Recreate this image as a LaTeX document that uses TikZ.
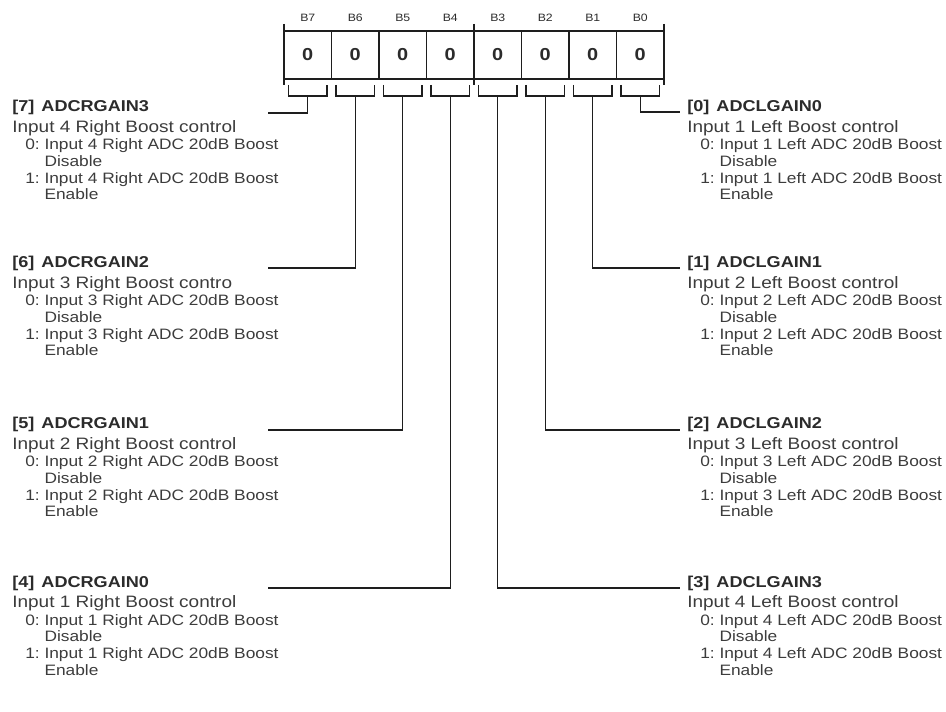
\documentclass[tikz,border=0pt]{standalone}
\usepackage{fontspec}
\setmainfont{Liberation Sans}[FakeStretch=1.15]
\usepackage{tikz}
\usetikzlibrary{calc}
\definecolor{txt}{HTML}{3C3C3C}
\definecolor{ttl}{HTML}{2B2B2B}
\definecolor{wirec}{HTML}{1E1E1E}
% one field description: #1 bit, #2 x, #3 baseline y, #4 field name, #5 description, #6 option text
\newcommand{\fielddesc}[6]{%
\node[fieldname] (t#1) at (#2,#3) {[#1]\hspace{0.45em}#4};
\node[fieldtext] (d#1) at ([yshift=-15.5pt]t#1.base west) {#5};
\node[fieldopt] (za#1) at ([xshift=9.75pt,yshift=-13pt]d#1.base west) {0:~#6};
\node[fieldopt] (zb#1) at ([yshift=-12.5pt]za#1.base west) {\phantom{0:~}Disable};
\node[fieldopt] (zc#1) at ([yshift=-12.5pt]zb#1.base west) {1:~#6};
\node[fieldopt] (zd#1) at ([yshift=-12.5pt]zc#1.base west) {\phantom{1:~}Enable};
}

\begin{document}
\begin{tikzpicture}[x=0.75pt, y=-0.75pt,
  wire/.style={draw=wirec, line width=0.8pt},
  cell/.style={draw=wirec, line width=0.8pt, minimum width=35.625pt, minimum height=36pt, inner sep=0pt, font=\fontsize{13}{15}\selectfont\bfseries, text=ttl},
  head/.style={inner sep=0pt, font=\fontsize{8}{9}\selectfont, text=ttl},
  fieldname/.style={anchor=base west, inner sep=0pt, font=\fontsize{11.8}{13}\selectfont\bfseries, text=ttl},
  fieldtext/.style={anchor=base west, inner sep=0pt, font=\fontsize{12.4}{13}\selectfont, text=txt},
  fieldopt/.style={anchor=base west, inner sep=0pt, font=\fontsize{11.3}{13}\selectfont, text=txt}]
\useasboundingbox (0,0) rectangle (946,712);

% register cells, bit labels and brackets
\foreach \b in {0,...,7} {
\pgfmathsetmacro\xl{284+(7-\b)*47.5}
\node[cell] (c\b) at (\xl+23.75,55) {0};
\node[head] (h\b) at (\xl+23.75,18) {B\b};
\draw[wire] (\xl+4.5,85) -- (\xl+4.5,96) -- (\xl+43,96) -- (\xl+43,85);
\coordinate (k\b) at (\xl+23.75,96);
}
\foreach \x in {284,474,664} \draw[wire] (\x,24) -- (\x,85);

% left fields
\fielddesc{7}{12}{112}{ADCRGAIN3}{Input 4 Right Boost control}{Input 4 Right ADC 20dB Boost}
\fielddesc{6}{12}{268}{ADCRGAIN2}{Input 3 Right Boost contro}{Input 3 Right ADC 20dB Boost}
\fielddesc{5}{12}{429}{ADCRGAIN1}{Input 2 Right Boost control}{Input 2 Right ADC 20dB Boost}
\fielddesc{4}{12}{587}{ADCRGAIN0}{Input 1 Right Boost control}{Input 1 Right ADC 20dB Boost}
% right fields
\fielddesc{0}{687}{112}{ADCLGAIN0}{Input 1 Left Boost control}{Input 1 Left ADC 20dB Boost}
\fielddesc{1}{687}{268}{ADCLGAIN1}{Input 2 Left Boost control}{Input 2 Left ADC 20dB Boost}
\fielddesc{2}{687}{429}{ADCLGAIN2}{Input 3 Left Boost control}{Input 3 Left ADC 20dB Boost}
\fielddesc{3}{687}{587}{ADCLGAIN3}{Input 4 Left Boost control}{Input 4 Left ADC 20dB Boost}

% connectors
\foreach \b/\y in {7/113, 6/268, 5/430, 4/588} {
\coordinate (p\b) at (268,\y);
\draw[wire] (k\b) |- (p\b);
}
\foreach \b/\y in {0/112, 1/268, 2/430, 3/588} {
\coordinate (p\b) at (680,\y);
\draw[wire] (k\b) |- (p\b);
}
\end{tikzpicture}
\end{document}
